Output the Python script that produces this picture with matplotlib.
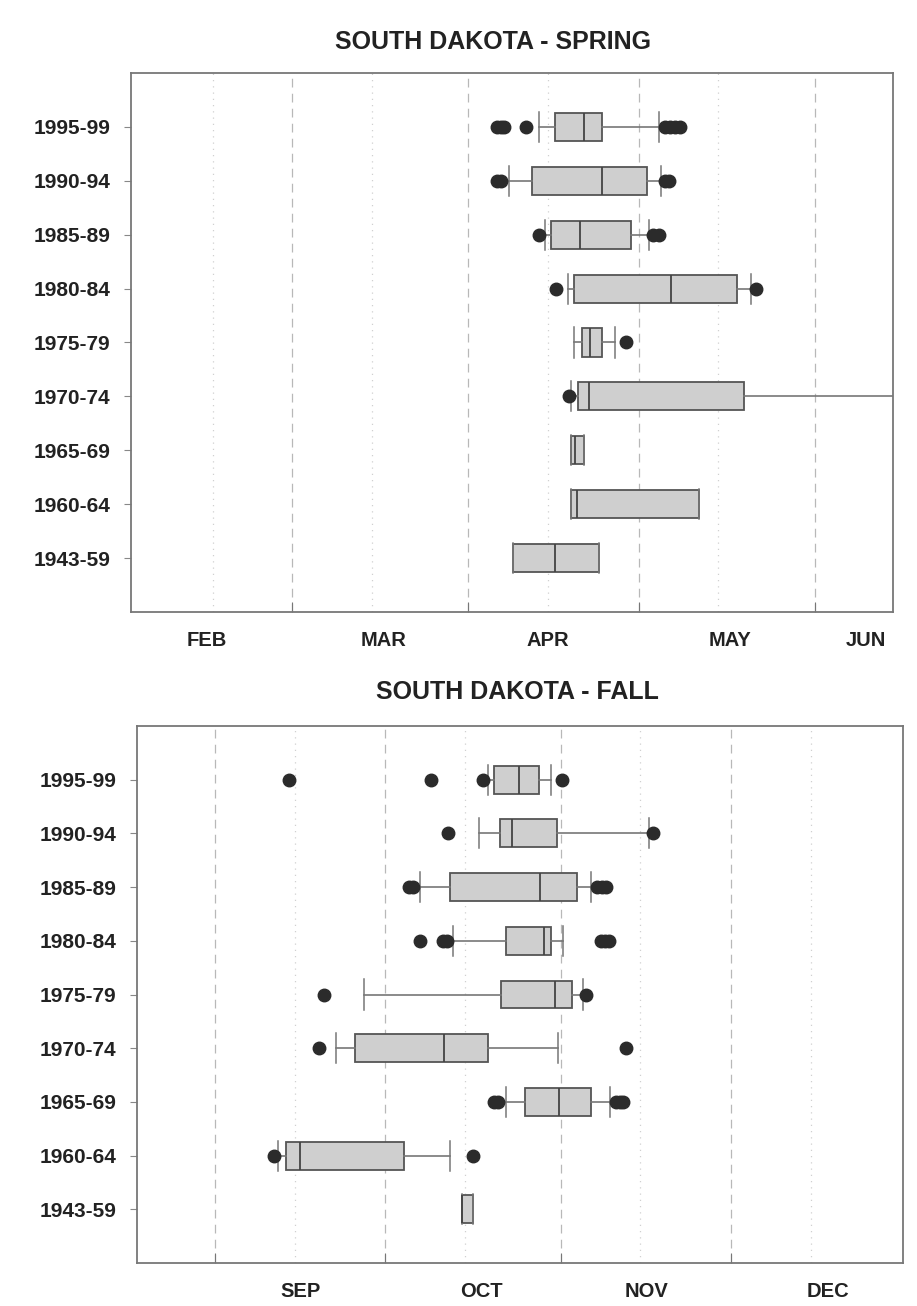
import matplotlib.pyplot as plt

plt.rcParams["font.family"] = ["Liberation Sans", "DejaVu Sans"]
plt.rcParams["font.weight"] = "bold"

periods = ["1995-99", "1990-94", "1985-89", "1980-84", "1975-79",
           "1970-74", "1965-69", "1960-64", "1943-59"]

# spring, values as day of year
spr_whislo = [103.5, 98.2, 104.5, 108.6, 109.6, 109.0, 109.1, 109.1, 98.8]
spr_q1 = [106.3, 102.2, 105.6, 109.6, 111.0, 110.3, 109.1, 109.1, 98.8]
spr_med = [111.4, 114.5, 110.7, 126.7, 112.5, 112.3, 109.7, 110.1, 106.3]
spr_q3 = [114.5, 122.4, 119.6, 138.4, 114.5, 139.5, 111.4, 131.7, 114.0]
spr_whishi = [124.5, 124.9, 122.9, 140.8, 116.9, 175.0, 111.4, 131.7, 114.0]
spr_fliers = [[96.0, 96.8, 97.3, 101.2, 125.6, 126.5, 127.4, 128.3],
              [96.0, 96.8, 125.6, 126.3],
              [103.4, 123.6, 124.5],
              [106.5, 141.7],
              [118.7],
              [108.7],
              [], [], []]

# fall, values as day of year
fal_whislo = [292.1, 290.6, 280.2, 285.9, 270.2, 265.3, 295.3, 255.0, 287.5]
fal_q1 = [293.2, 294.3, 285.4, 295.3, 294.4, 268.7, 298.7, 256.5, 287.5]
fal_med = [297.6, 296.3, 301.3, 302.0, 304.0, 284.4, 304.6, 259.0, 287.5]
fal_q3 = [301.1, 304.2, 307.9, 303.3, 307.0, 292.1, 310.3, 277.3, 289.5]
fal_whishi = [303.3, 320.5, 310.3, 305.4, 308.8, 304.4, 313.7, 285.4, 289.5]
fal_fliers = [[257.0, 282.1, 291.2, 305.1],
              [285.1, 321.2],
              [278.2, 278.9, 311.4, 312.3, 313.0],
              [280.2, 284.2, 284.9, 312.1, 312.8, 313.5],
              [263.2, 309.4],
              [262.3, 316.5],
              [293.2, 293.9, 314.7, 315.4, 315.9],
              [254.3, 289.4],
              []]

# month axis
spr_months = ["FEB", "MAR", "APR", "MAY", "JUN"]
spr_label_days = [45, 76, 105, 137, 161]
spr_month_starts = [60, 91, 121, 152]
spr_mid_months = [46, 74, 105, 135]

fal_months = ["SEP", "OCT", "NOV", "DEC"]
fal_label_days = [259, 291, 320, 352]
fal_month_starts = [244, 274, 305, 335]
fal_mid_months = [258, 288, 319, 349]


def draw_panel(ax, whislo, q1, med, q3, whishi, fliers,
               xlim, starts, mids, label_days, months):
    stats = []
    for i in range(len(periods)):
        stats.append(dict(whislo=whislo[i], q1=q1[i], med=med[i], q3=q3[i],
                          whishi=whishi[i], fliers=fliers[i], label=periods[i]))
    pos = list(range(len(periods), 0, -1))

    for d in starts:
        ax.axvline(d, color="#b8b8b8", lw=0.9, ls=(0, (7, 5)), zorder=0)
    for d in mids:
        ax.axvline(d, color="#d0d0d0", lw=0.9, ls=(0, (1, 4)), zorder=0)

    ax.bxp(stats, positions=pos, orientation="horizontal", widths=0.52,
           capwidths=0.56, patch_artist=True,
           boxprops=dict(facecolor="#cfcfcf", edgecolor="#555555", lw=1.3),
           medianprops=dict(color="#444444", lw=1.3),
           whiskerprops=dict(color="#777777", lw=1.2),
           capprops=dict(color="#777777", lw=1.1),
           flierprops=dict(marker="o", markerfacecolor="#2b2b2b",
                           markeredgecolor="#2b2b2b", markersize=9))

    ax.set_xlim(*xlim)
    ax.set_ylim(0, 10)
    ax.set_xticks(starts, [""] * len(starts))
    ax.set_xticks(label_days, months, minor=True)
    ax.tick_params(axis="x", which="major", direction="in", length=7,
                   color="#777777")
    ax.tick_params(axis="x", which="minor", length=0, pad=14,
                   labelsize=14.5, labelcolor="#222222")
    ax.tick_params(axis="y", direction="out", length=5, color="#888888",
                   pad=10, labelsize=15, labelcolor="#222222")
    for s in ax.spines.values():
        s.set_color("#777777")
        s.set_linewidth(1.3)


fig = plt.figure(figsize=(9.17, 13.06), dpi=100)

ax1 = fig.add_axes([0.1429, 0.5314, 0.8310, 0.4127])
draw_panel(ax1, spr_whislo, spr_q1, spr_med, spr_q3, spr_whishi, spr_fliers,
           (31.6, 165.8), spr_month_starts, spr_mid_months,
           spr_label_days, spr_months)

ax2 = fig.add_axes([0.1499, 0.0329, 0.8348, 0.4112])
draw_panel(ax2, fal_whislo, fal_q1, fal_med, fal_q3, fal_whishi, fal_fliers,
           (230.3, 365.3), fal_month_starts, fal_mid_months,
           fal_label_days, fal_months)

fig.text(493 / 917, 1 - 42 / 1306, "SOUTH DAKOTA - SPRING", ha="center",
         va="center", fontsize=18, fontweight="bold", color="#222222")
fig.text(517.5 / 917, 1 - 692 / 1306, "SOUTH DAKOTA - FALL", ha="center",
         va="center", fontsize=18, fontweight="bold", color="#222222")

plt.savefig("out.png", dpi=100)
